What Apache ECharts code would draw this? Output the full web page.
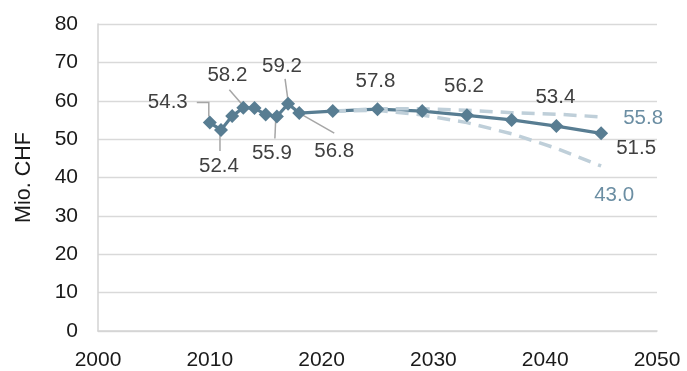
<!DOCTYPE html>
<html>
<head>
<meta charset="utf-8">
<script src="https://cdn.jsdelivr.net/npm/echarts@6/dist/echarts.min.js"></script>
<style>
  html, body { margin: 0; padding: 0; background: #ffffff; }
  #chart { width: 687px; height: 371px; }
</style>
</head>
<body>
<div id="chart"></div>
<script>
// Observed costs and forecast (Mio. CHF)
const years = [2010, 2011, 2012, 2013, 2014, 2015, 2016, 2017, 2018, 2021, 2025, 2029, 2033, 2037, 2041, 2045];
const cost  = [54.3, 52.4, 56.0, 58.2, 58.1, 56.4, 55.9, 59.2, 56.8, 57.3, 57.8, 57.3, 56.2, 55.0, 53.4, 51.5];

// Scenario band around the forecast
const scenarioYears = [2021, 2025, 2029, 2033, 2037, 2041, 2045];
const upperCost     = [57.3, 57.9, 57.9, 57.5, 56.9, 56.5, 55.8];
const lowerCost     = [57.3, 57.5, 56.3, 54.3, 51.4, 47.6, 43.0];

// Axis ticks
const xTicks = [2000, 2010, 2020, 2030, 2040, 2050];
const yTicks = [0, 10, 20, 30, 40, 50, 60, 70, 80];
const yName = 'Mio. CHF';

// Where each value label sits relative to its marker, and its leader line
const labelPlacement = {
  2010: { offset: [-42, -20], leader: [[-13, -20], [-1, -20], [-1, -6]] },
  2011: { offset: [-2, 36],   leader: [[-1, 3], [-1, 21]] },
  2013: { offset: [-16, -32], leader: [[-14, -18], [-1, -3]] },
  2016: { offset: [-5, 37],   leader: [[-1, -1], [-2, 22]] },
  2017: { offset: [-6, -37],  leader: [[-3, -25], [0, -3]] },
  2018: { offset: [35, 38],   leader: [[0, 0], [35, 20]] },
  2025: { offset: [-2, -28] },
  2033: { offset: [-3, -29] },
  2041: { offset: [-1, -29] },
  2045: { offset: [35, 15] }
};
const upperLabelOffset = [42, 1];
const lowerLabelOffset = [13, 29];

const FONT = '"Liberation Sans", Arial, sans-serif';
const MAIN = '#587d92';
const BAND = '#bfcfd9';
const BAND_TEXT = '#6b8ea3';
const TEXT = '#404040';
const AXIS_TEXT = '#1a1a1a';

const pairs = (xs, vs) => xs.map((x, i) => [x, vs[i]]);
const oneDecimal = (p) => p.value[1].toFixed(1);

const markerData = years.map((yr, i) => {
  const p = labelPlacement[yr];
  const item = { value: [yr, cost[i]] };
  if (p) {
    item.label = { show: true, position: 'inside', offset: p.offset };
  }
  return item;
});

const bandData = (vs, offset) => scenarioYears.map((yr, i) => {
  const item = { value: [yr, vs[i]] };
  if (i === scenarioYears.length - 1) {
    item.label = { show: true, position: 'inside', offset: offset };
  }
  return item;
});

const bandSeries = (name, vs, offset) => ({
  name: name,
  type: 'line',
  data: bandData(vs, offset),
  symbol: 'circle',
  symbolSize: 1,
  showSymbol: true,
  itemStyle: { color: 'rgba(0,0,0,0)' },
  lineStyle: { color: BAND, width: 3.5, type: [13, 8] },
  label: { color: BAND_TEXT, fontSize: 20.5, fontFamily: FONT, formatter: oneDecimal },
  z: 3
});

const chart = echarts.init(document.getElementById('chart'), null, { renderer: 'canvas' });

chart.setOption({
  animation: false,
  backgroundColor: '#ffffff',
  textStyle: { fontFamily: FONT },
  grid: { left: 98, right: 30, top: 24, bottom: 38, containLabel: false },
  xAxis: {
    type: 'value',
    min: xTicks[0],
    max: xTicks[xTicks.length - 1],
    interval: xTicks[1] - xTicks[0],
    axisLine: { show: true, lineStyle: { color: '#d3d3d3', width: 1.5 } },
    axisTick: { show: false },
    splitLine: { show: false },
    axisLabel: {
      color: AXIS_TEXT, fontSize: 21, fontFamily: FONT, margin: 19,
      formatter: (v) => String(v)
    }
  },
  yAxis: {
    type: 'value',
    min: yTicks[0],
    max: yTicks[yTicks.length - 1],
    interval: yTicks[1] - yTicks[0],
    name: yName,
    nameLocation: 'middle',
    nameRotate: 90,
    nameGap: 63,
    nameTextStyle: { color: AXIS_TEXT, fontSize: 21.5, fontFamily: FONT },
    axisLine: { show: true, lineStyle: { color: '#d3d3d3', width: 1.5 } },
    axisTick: { show: false },
    splitLine: { show: true, lineStyle: { color: '#d9d9d9', width: 1.3 } },
    axisLabel: { color: AXIS_TEXT, fontSize: 21, fontFamily: FONT, margin: 20 }
  },
  series: [
    {
      name: 'Kosten',
      type: 'line',
      data: pairs(years, cost),
      showSymbol: false,
      symbol: 'none',
      lineStyle: { color: MAIN, width: 3.2 },
      z: 2
    },
    bandSeries('Obere Variante', upperCost, upperLabelOffset),
    bandSeries('Untere Variante', lowerCost, lowerLabelOffset),
    {
      name: 'Kosten (Werte)',
      type: 'line',
      data: markerData,
      symbol: 'diamond',
      symbolSize: 14,
      showSymbol: true,
      itemStyle: { color: MAIN },
      lineStyle: { width: 0, opacity: 0 },
      label: { color: TEXT, fontSize: 20.5, fontFamily: FONT, formatter: oneDecimal },
      z: 4
    }
  ]
});

// Leader lines from markers to their labels
const leaders = [];
years.forEach((yr, i) => {
  const p = labelPlacement[yr];
  if (!p || !p.leader) return;
  const c = chart.convertToPixel({ gridIndex: 0 }, [yr, cost[i]]);
  leaders.push({
    type: 'polyline',
    silent: true,
    z: 1,
    shape: { points: p.leader.map((d) => [c[0] + d[0], c[1] + d[1]]) },
    style: { stroke: '#a6a6a6', lineWidth: 1.5, fill: null }
  });
});
chart.setOption({ graphic: leaders });
</script>
</body>
</html>
